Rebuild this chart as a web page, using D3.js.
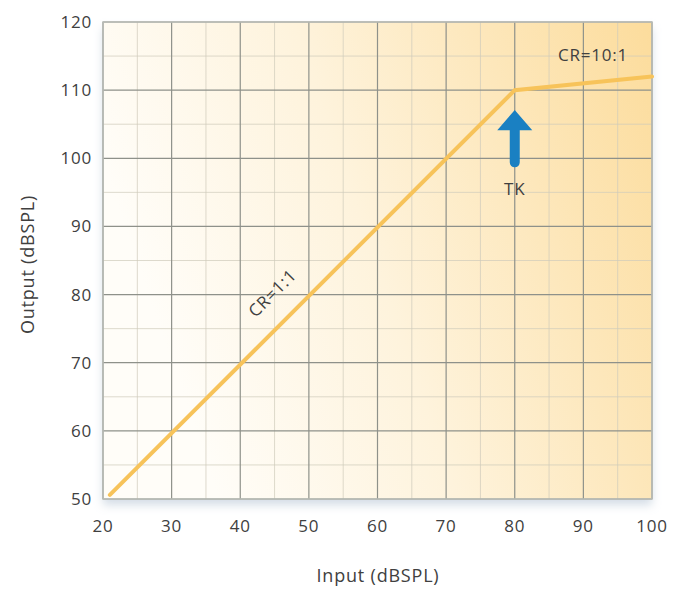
<!DOCTYPE html>
<html>
<head>
<meta charset="utf-8">
<script src="https://cdn.jsdelivr.net/npm/d3@7"></script>
<style>
  body { margin: 0; background: #fff; }
  text { font-family: "Open Sans", "DejaVu Sans", sans-serif; fill: #404040; letter-spacing: 0.8px; }
</style>
</head>
<body>
<div class="chart"></div>
<script>
// data
const inputLevels = [21, 80, 100];
const outputLevels = [50.6, 110, 112];
const xTicks = [20, 30, 40, 50, 60, 70, 80, 90, 100];
const yTicks = [50, 60, 70, 80, 90, 100, 110, 120];
const kneeInput = 80;

const W = 678, H = 596;
const margin = ({top: 22, right: 26, bottom: 97, left: 103});
const width = W - margin.left - margin.right;
const height = H - margin.top - margin.bottom;

const svg = d3.select('.chart').append('svg')
    .attr('width', W).attr('height', H);

const defs = svg.append('defs');
const grad = defs.append('linearGradient').attr('id', 'bg')
    .attr('x1', 0).attr('y1', 0.3).attr('x2', 1).attr('y2', 0);
grad.append('stop').attr('offset', 0).attr('stop-color', '#fffdf8');
grad.append('stop').attr('offset', 0.4).attr('stop-color', '#fef3dc');
grad.append('stop').attr('offset', 1).attr('stop-color', '#fcdc9c');

const shadow = defs.append('filter').attr('id', 'shadow')
    .attr('x', -0.05).attr('y', -0.05).attr('width', 1.1).attr('height', 1.12);
shadow.append('feDropShadow').attr('dx', 0).attr('dy', 6).attr('stdDeviation', 5)
    .attr('flood-color', '#9fb3c8').attr('flood-opacity', 0.45);

const g = svg.append('g')
    .attr('transform', `translate(${margin.left},${margin.top})`);

const x = d3.scaleLinear().domain([20, 100]).range([0, width]);
const y = d3.scaleLinear().domain([50, 120]).range([height, 0]);

g.append('rect')
    .attr('width', width).attr('height', height)
    .attr('fill', 'url(#bg)')
    .attr('filter', 'url(#shadow)');

// minor grid
const minorX = d3.range(25, 100, 10);
const minorY = d3.range(55, 120, 10);
g.selectAll('.minor-x').data(minorX).join('line')
    .attr('x1', d => x(d)).attr('x2', d => x(d))
    .attr('y1', 0).attr('y2', height)
    .attr('stroke', '#cfcabb').attr('stroke-opacity', 0.7).attr('stroke-width', 1);
g.selectAll('.minor-y').data(minorY).join('line')
    .attr('y1', d => y(d)).attr('y2', d => y(d))
    .attr('x1', 0).attr('x2', width)
    .attr('stroke', '#cfcabb').attr('stroke-opacity', 0.7).attr('stroke-width', 1);

// major grid
g.selectAll('.major-x').data(xTicks).join('line')
    .attr('x1', d => x(d)).attr('x2', d => x(d))
    .attr('y1', 0).attr('y2', height)
    .attr('stroke', '#8e918a').attr('stroke-width', 1.2);
g.selectAll('.major-y').data(yTicks).join('line')
    .attr('y1', d => y(d)).attr('y2', d => y(d))
    .attr('x1', 0).attr('x2', width)
    .attr('stroke', '#8e918a').attr('stroke-width', 1.2);

// frame
g.append('rect').attr('width', width).attr('height', height)
    .attr('fill', 'none').attr('stroke', '#b9bcb6').attr('stroke-width', 1.5);

// tick labels
g.selectAll('.xt').data(xTicks).join('text')
    .attr('x', d => x(d)).attr('y', height + 33)
    .attr('text-anchor', 'middle')
    .attr('font-size', 17)
    .text(d => d);
g.selectAll('.yt').data(yTicks).join('text')
    .attr('x', -11).attr('y', d => y(d) + 6)
    .attr('text-anchor', 'end')
    .attr('font-size', 17)
    .text(d => d);

// axis titles
svg.append('text')
    .attr('x', 378).attr('y', 582)
    .attr('text-anchor', 'middle').attr('font-size', 18)
    .text('Input (dBSPL)');
svg.append('text')
    .attr('transform', `translate(34,${margin.top + height / 2 + 4}) rotate(-90)`)
    .attr('text-anchor', 'middle').attr('font-size', 18)
    .text('Output (dBSPL)');

// curve
const line = d3.line().x((d, i) => x(inputLevels[i])).y(d => y(d));
g.append('path').datum(outputLevels)
    .attr('d', line)
    .attr('fill', 'none')
    .attr('stroke', '#f7c35a')
    .attr('stroke-width', 4)
    .attr('stroke-linecap', 'round');

// labels on curve
const angle = -Math.atan2(y(50) - y(60), x(60) - x(50)) * 180 / Math.PI;
g.append('text')
    .attr('transform', `translate(${x(45.3)},${y(79.6)}) rotate(${angle})`)
    .attr('text-anchor', 'middle').attr('font-size', 17)
    .text('CR=1:1');
g.append('text')
    .attr('x', x(91.4)).attr('y', y(114.3))
    .attr('text-anchor', 'middle').attr('font-size', 17)
    .text('CR=10:1');

// threshold arrow
const ax = x(kneeInput);
const tipY = y(107.1), headY = y(104.1), baseY = y(99.4);
g.append('path')
    .attr('d', `M${ax},${tipY} L${ax + 17.5},${headY} L${ax + 5},${headY} L${ax + 5},${baseY} ` +
               `A5,5 0 0 1 ${ax - 5},${baseY} L${ax - 5},${headY} L${ax - 17.5},${headY} Z`)
    .attr('fill', '#1a80c2');
g.append('text')
    .attr('x', ax).attr('y', y(94.6))
    .attr('text-anchor', 'middle').attr('font-size', 17)
    .text('TK');
</script>
</body>
</html>
